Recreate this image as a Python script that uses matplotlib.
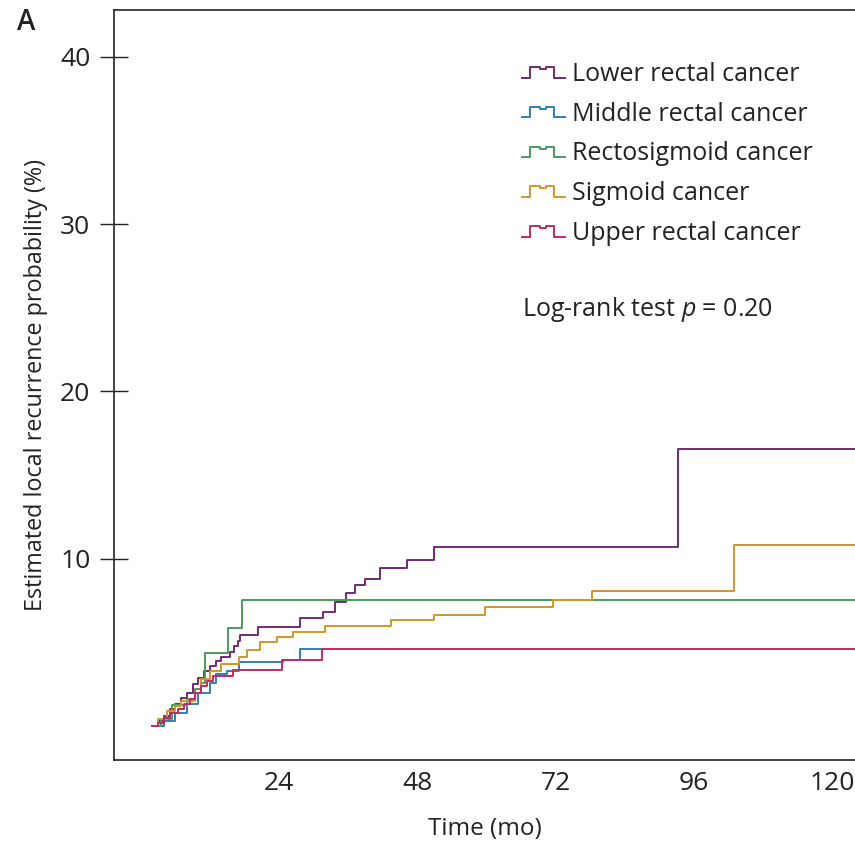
import matplotlib
matplotlib.use("Agg")
import matplotlib.pyplot as plt
from matplotlib.legend_handler import HandlerBase
from matplotlib.lines import Line2D

# Kaplan-Meier style step data (months, %)
lower_t = [2, 3, 4, 5, 6, 7, 8, 9, 10, 11, 12, 13, 14, 15.5, 16.2, 16.9, 17.2, 20.4, 27.7,
           31.6, 33.7, 35.6, 37.2, 38.9, 41.5, 46.2, 50.9, 93.3, 126]
lower_v = [0, 0.3, 0.6, 1.0, 1.3, 1.7, 2.0, 2.5, 2.9, 3.3, 3.6, 3.9, 4.1, 4.4, 4.8, 5.1, 5.44, 5.9, 6.46,
           6.8, 7.4, 7.95, 8.43, 8.79, 9.44, 9.92, 10.7, 16.56, 16.56]

middle_t = [2, 4, 6, 8, 10, 12, 13, 15, 17, 24.7, 27.7, 32]
middle_v = [0, 0.3, 0.8, 1.3, 2.0, 2.6, 3.1, 3.3, 3.8, 3.95, 4.6, 4.6]

recto_t = [2, 3.5, 5.4, 8, 9.5, 10.5, 11.1, 15.1, 17.5, 126]
recto_v = [0, 0.4, 1.25, 1.6, 2.2, 2.6, 4.36, 5.86, 7.53, 7.53]

sigmoid_t = [2, 3, 4.5, 6, 7, 9.4, 10.5, 12, 14, 17, 18.4, 20.7, 23.6, 26.5, 32,
             43.4, 50.9, 59.8, 71.6, 78.4, 103, 126]
sigmoid_v = [0, 0.4, 0.9, 1.2, 1.5, 2.0, 2.8, 3.3, 3.7, 4.1, 4.54, 5.0, 5.3, 5.6, 5.98,
             6.34, 6.63, 7.1, 7.53, 8.07, 10.8, 10.8]

upper_t = [2, 3, 4, 5, 6.5, 7.5, 8.5, 9.5, 10.5, 11.5, 12.5, 16, 24.5, 31.5, 126]
upper_v = [0, 0.2, 0.5, 0.8, 1.0, 1.3, 1.6, 2.0, 2.4, 2.7, 3.0, 3.35, 3.95, 4.6, 4.6]

labels = ["Lower rectal cancer", "Middle rectal cancer", "Rectosigmoid cancer",
          "Sigmoid cancer", "Upper rectal cancer"]
colors = ["#722a74", "#2f7fb8", "#4b9b5b", "#d4962c", "#c42a62"]
series = [(lower_t, lower_v), (middle_t, middle_v), (recto_t, recto_v),
          (sigmoid_t, sigmoid_v), (upper_t, upper_v)]

x_ticks = [24, 48, 72, 96, 120]
y_ticks = [10, 20, 30, 40]

plt.rcParams["font.family"] = ["Open Sans", "DejaVu Sans"]
plt.rcParams["mathtext.fontset"] = "custom"
plt.rcParams["mathtext.it"] = "Open Sans:italic"
plt.rcParams["mathtext.rm"] = "Open Sans"

TXT = "#222222"


class HandlerStep(HandlerBase):
    """Small step-shaped legend key, like a KM curve."""

    def create_artists(self, legend, orig_handle, xdescent, ydescent,
                       width, height, fontsize, trans):
        xs = [0, .18, .18, .42, .42, .55, .55, .75, .75, 1.0]
        ys = [0, 0, 1, 1, .8, .8, 1, 1, 0, 0]
        x = [-xdescent + width * v for v in xs]
        y = [-ydescent + height * (0.2 + 0.6 * v) for v in ys]
        line = Line2D(x, y, color=orig_handle.get_color(),
                      lw=orig_handle.get_linewidth(), transform=trans)
        return [line]


fig = plt.figure(figsize=(8.55, 8.41), dpi=100)
ax = fig.add_axes([114 / 855, 81 / 841, 1 - 114 / 855, 750 / 841])

handles = []
for (t, v), c, lab in zip(series, colors, labels):
    h, = ax.step(t, v, where="post", color=c, lw=1.4, label=lab)
    handles.append(h)

ax.set_xlim(-4.64, 124)
ax.set_ylim(-2.03, 42.8)
ax.set_xticks(x_ticks)
ax.set_yticks(y_ticks)
ax.tick_params(axis="x", length=0, pad=8, labelsize=19, colors=TXT)
ax.tick_params(axis="y", direction="inout", length=20, width=1, pad=7,
               labelsize=19, colors=TXT)
ax.spines["right"].set_visible(False)
for s in ["left", "bottom", "top"]:
    ax.spines[s].set_linewidth(1.2)
    ax.spines[s].set_color(TXT)

ax.set_xlabel("Time (mo)", fontsize=17.5, labelpad=15, color=TXT)
ax.set_ylabel("Estimated local recurrence probability (%)", fontsize=16.8,
              labelpad=9, color=TXT)

ax.legend(handles=handles, labels=labels, handler_map={Line2D: HandlerStep()},
          loc="upper left", bbox_to_anchor=(522 / 855, 1 - 62 / 841),
          bbox_transform=fig.transFigure, frameon=False, fontsize=18,
          handlelength=1.72, handletextpad=0.27, labelspacing=0.59,
          borderpad=0, borderaxespad=0, labelcolor=TXT)

fig.text(522 / 855, 1 - 309 / 841, "Log-rank test $p$ = 0.20", fontsize=18,
         va="center", ha="left", color=TXT)
fig.text(17 / 855, 1 - 23 / 841, "A", fontsize=20, fontweight="semibold",
         va="center", ha="left", color=TXT)

fig.savefig("out.png", dpi=100)
